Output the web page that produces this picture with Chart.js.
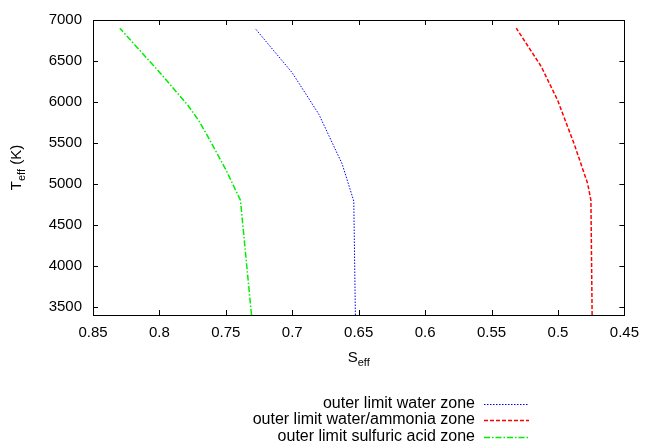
<!DOCTYPE html>
<html>
<head>
<meta charset="utf-8">
<script src="https://cdn.jsdelivr.net/npm/chart.js@4/dist/chart.umd.min.js"></script>
<style>
  html, body { margin: 0; padding: 0; background: #fff; }
  #wrap { width: 648px; height: 447px; }
</style>
</head>
<body>
<div id="wrap"><canvas id="chart"></canvas></div>
<script>
"use strict";

// each curve: effective temperature (K) and S_eff
const tWater = [3400, 4790, 5245, 5850, 6355, 6900];
const sWater = [0.6525, 0.6537, 0.6625, 0.680, 0.700, 0.7281];

const tAmmonia = [3400, 4800, 5006, 5482, 6018, 6435, 6900];
const sAmmonia = [0.4743, 0.4752, 0.4777, 0.4877, 0.5002, 0.5127, 0.5314];

const tSulfuric = [3400, 4800, 5170, 5320, 5580, 5760, 5960, 6360, 6900];
const sSulfuric = [0.7307, 0.739, 0.7499, 0.7549, 0.7636, 0.7699, 0.7786, 0.7998, 0.8298];

const seriesNames = ['outer limit water zone', 'outer limit water/ammonia zone', 'outer limit sulfuric acid zone'];

const xTicks = [0.85, 0.8, 0.75, 0.7, 0.65, 0.6, 0.55, 0.5, 0.45];
const yTicks = [3500, 4000, 4500, 5000, 5500, 6000, 6500, 7000];

const FONT = 'Liberation Sans, Arial, Helvetica, sans-serif';

function pts(xs, ts) {
  return xs.map((v, i) => ({ x: v, y: ts[i] }));
}

// ticks pointing inwards on all four sides, gnuplot style, plus frame
const frameTicks = {
  id: 'frameTicks',
  afterDraw(chart) {
    const ctx = chart.ctx;
    const a = chart.chartArea;
    const xs = chart.scales.x;
    const ys = chart.scales.y;
    const len = 5;
    ctx.save();
    ctx.strokeStyle = '#000';
    ctx.lineWidth = 1;
    ctx.beginPath();
    xTicks.forEach((t) => {
      const px = Math.round(xs.getPixelForValue(t)) + 0.5;
      ctx.moveTo(px, a.bottom);
      ctx.lineTo(px, a.bottom - len);
      ctx.moveTo(px, a.top);
      ctx.lineTo(px, a.top + len);
    });
    yTicks.forEach((t) => {
      const py = Math.round(ys.getPixelForValue(t)) + 0.5;
      ctx.moveTo(a.left, py);
      ctx.lineTo(a.left + len, py);
      ctx.moveTo(a.right, py);
      ctx.lineTo(a.right - len, py);
    });
    ctx.stroke();
    ctx.strokeRect(Math.round(a.left) + 0.5, Math.round(a.top) + 0.5,
      Math.round(a.right - a.left), Math.round(a.bottom - a.top));
    ctx.restore();
  }
};

// axis titles with subscripts and the legend below the plot
const extras = {
  id: 'extras',
  afterDraw(chart) {
    const ctx = chart.ctx;
    const a = chart.chartArea;
    ctx.save();
    ctx.fillStyle = '#000';
    ctx.textBaseline = 'alphabetic';

    // x title: S_eff
    const big = '15px ' + FONT;
    const small = '11px ' + FONT;
    ctx.font = big;
    const wS = ctx.measureText('S').width;
    ctx.font = small;
    const wE = ctx.measureText('eff').width;
    let x0 = (a.left + a.right) / 2 - (wS + wE) / 2;
    ctx.font = big;
    ctx.textAlign = 'left';
    ctx.fillText('S', x0, 362);
    ctx.font = small;
    ctx.fillText('eff', x0 + wS, 366);

    // y title: T_eff (K), rotated
    ctx.save();
    ctx.translate(21, (a.top + a.bottom) / 2);
    ctx.rotate(-Math.PI / 2);
    ctx.font = big;
    const wT = ctx.measureText('T').width;
    const wK = ctx.measureText(' (K)').width;
    ctx.font = small;
    const wE2 = ctx.measureText('eff').width;
    let s0 = -(wT + wE2 + wK) / 2;
    ctx.font = big;
    ctx.fillText('T', s0, 0);
    ctx.font = small;
    ctx.fillText('eff', s0 + wT, 4);
    ctx.font = big;
    ctx.fillText(' (K)', s0 + wT + wE2, 0);
    ctx.restore();

    // legend
    ctx.font = '16px ' + FONT;
    ctx.textAlign = 'right';
    ctx.textBaseline = 'middle';
    const rows = [404, 420, 437];
    chart.data.datasets.forEach((ds, i) => {
      ctx.fillStyle = '#000';
      ctx.fillText(ds.label, 475, rows[i]);
      ctx.save();
      ctx.strokeStyle = ds.borderColor;
      ctx.lineWidth = ds.borderWidth;
      ctx.setLineDash(ds.borderDash);
      ctx.beginPath();
      ctx.moveTo(484, rows[i] + 0.5);
      ctx.lineTo(529, rows[i] + 0.5);
      ctx.stroke();
      ctx.restore();
    });
    ctx.restore();
  }
};

new Chart(document.querySelector('#chart'), {
  type: 'scatter',
  data: {
    datasets: [{
      label: seriesNames[0],
      data: pts(sWater, tWater),
      showLine: true,
      borderColor: 'rgb(0, 0, 255)',
      borderWidth: 1,
      borderDash: [1.5, 1.5],
      pointRadius: 0,
      fill: false
    },
    {
      label: seriesNames[1],
      data: pts(sAmmonia, tAmmonia),
      showLine: true,
      borderColor: 'rgb(255, 0, 0)',
      borderWidth: 1.5,
      borderDash: [4, 2],
      pointRadius: 0,
      fill: false
    },
    {
      label: seriesNames[2],
      data: pts(sSulfuric, tSulfuric),
      showLine: true,
      borderColor: 'rgb(0, 238, 0)',
      borderWidth: 1.5,
      borderDash: [6, 2, 1.5, 2],
      pointRadius: 0,
      fill: false
    }]
  },
  options: {
    responsive: true,
    maintainAspectRatio: false,
    animation: false,
    events: [],
    layout: { padding: { left: 0, right: 21, top: 12, bottom: 0 } },
    plugins: {
      legend: { display: false },
      tooltip: { enabled: false }
    },
    scales: {
      x: {
        type: 'linear',
        reverse: true,
        min: 0.45,
        max: 0.85,
        afterBuildTicks: (s) => { s.ticks = xTicks.map((v) => ({ value: v })); },
        afterFit: (s) => { s.height = 132; },
        grid: { display: false, drawTicks: false },
        border: { display: false },
        ticks: {
          color: '#000',
          padding: 9,
          maxRotation: 0,
          autoSkip: false,
          font: { family: FONT, size: 15 },
          callback: (v) => String(Number(v.toFixed(2)))
        }
      },
      y: {
        type: 'linear',
        min: 3400,
        max: 7000,
        afterBuildTicks: (s) => { s.ticks = yTicks.map((v) => ({ value: v })); },
        afterFit: (s) => { s.width = 93; },
        grid: { display: false, drawTicks: false },
        border: { display: false },
        ticks: {
          color: '#000',
          padding: 11,
          autoSkip: false,
          font: { family: FONT, size: 15 },
          callback: (v) => String(v)
        }
      }
    }
  },
  plugins: [frameTicks, extras]
});
</script>
</body>
</html>
